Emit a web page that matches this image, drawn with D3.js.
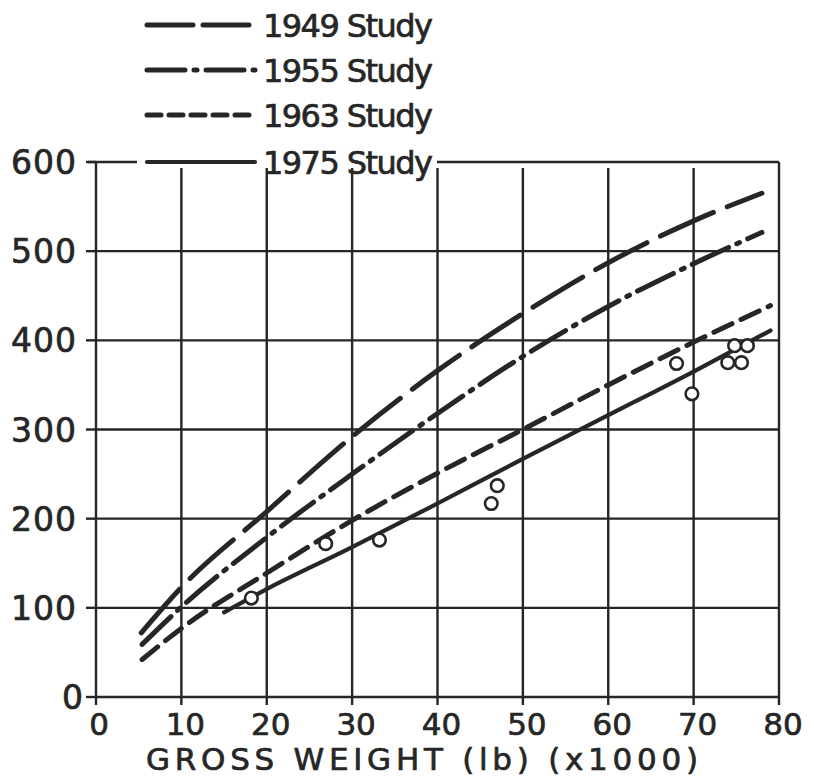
<!DOCTYPE html>
<html>
<head>
<meta charset="utf-8">
<script src="https://cdn.jsdelivr.net/npm/d3@7"></script>
<style>
  html, body { margin: 0; padding: 0; background: #fff; }
  svg { display: block; }
  text { font-family: "DejaVu Sans", "Liberation Sans", sans-serif; fill: #262626; stroke: #262626; stroke-width: 0.7px; }
</style>
</head>
<body>
<script>
// Gross weight (x1000 lb) against the estimate from each study
const x1949 = [5.3, 10, 20, 30, 40, 50, 60, 70, 78];
const y1949 = [72, 123, 208, 292, 366, 430, 487, 534, 565];

const x1955 = [5.4, 10, 20, 30, 40, 50, 60, 70, 78];
const y1955 = [59, 101, 179, 250, 318, 382, 438, 486, 521];

const x1963 = [5.4, 10, 20, 30, 40, 50, 60, 70, 79];
const y1963 = [42, 77, 139, 198, 251, 300, 350, 398, 439];

const x1975 = [15, 20, 30, 40, 50, 60, 70, 79];
const y1975 = [95, 121, 168, 217, 267, 316, 365, 411];

// Observed points
const obsX = [18.2, 26.9, 33.2, 46.3, 47.0, 68.0, 69.8, 74.0, 75.6, 74.8, 76.3];
const obsY = [111, 172, 176, 217, 237, 374, 340, 375, 375, 394, 394];

const xTicks = [0, 10, 20, 30, 40, 50, 60, 70, 80];
const yTicks = [0, 100, 200, 300, 400, 500, 600];
const studyNames = ["1949 Study", "1955 Study", "1963 Study", "1975 Study"];
const xTitle = "GROSS WEIGHT (lb) (x1000)";

const W = 814, H = 779;
const ink = "#262626";

const svg = d3.select("body").append("svg")
  .attr("width", W).attr("height", H);

svg.append("rect").attr("width", W).attr("height", H).attr("fill", "#fff").attr("stroke", "none");

const x = d3.scaleLinear().domain([0, 80]).range([96, 779]);
const y = d3.scaleLinear().domain([0, 600]).range([697, 162]);

// Grid
const grid = svg.append("g").attr("stroke", ink).attr("stroke-width", 2.4).attr("fill", "none");

// vertical grid lines (inner ones stop just short of the top border)
grid.selectAll("line.v").data(xTicks).join("line")
  .attr("x1", d => x(d)).attr("x2", d => x(d))
  .attr("y1", d => (d === 0 || d === 80) ? y(600) : y(600) + 6)
  .attr("y2", y(0));

// horizontal grid lines below the top border
grid.selectAll("line.h").data(yTicks.filter(d => d < 600)).join("line")
  .attr("x1", x(0)).attr("x2", x(80))
  .attr("y1", d => y(d)).attr("y2", d => y(d));

// top border, broken by the legend's last row
grid.append("line").attr("x1", x(0) - 8).attr("x2", 137)
  .attr("y1", y(600)).attr("y2", y(600));
grid.append("line").attr("x1", 437).attr("x2", x(80))
  .attr("y1", y(600)).attr("y2", y(600));

// tick marks
grid.selectAll("line.xt").data(xTicks).join("line")
  .attr("x1", d => x(d)).attr("x2", d => x(d))
  .attr("y1", y(0)).attr("y2", y(0) + 8);
grid.selectAll("line.yt").data(yTicks).join("line")
  .attr("x1", x(0) - 10).attr("x2", x(0))
  .attr("y1", d => y(d)).attr("y2", d => y(d));

// Tick labels
svg.append("g").selectAll("text").data(yTicks).join("text")
  .attr("x", d => d === 0 ? 84 : 77)
  .attr("y", d => y(d) + 12)
  .attr("text-anchor", "end")
  .attr("font-size", 33)
  .attr("letter-spacing", 1)
  .text(d => d);

svg.append("g").selectAll("text").data(xTicks).join("text")
  .attr("x", d => x(d) + (d === 0 ? 3 : 4))
  .attr("y", y(0) + 38)
  .attr("text-anchor", "middle")
  .attr("font-size", 31)
  .text(d => d);

// Axis title
svg.append("text")
  .attr("x", 146).attr("y", 770)
  .attr("font-size", 31)
  .attr("textLength", 552)
  .attr("lengthAdjust", "spacing")
  .text(xTitle);

// Study curves
const series = [
  { xs: x1949, ys: y1949, dash: "58,15", width: 5 },
  { xs: x1955, ys: y1955, dash: "40,9,3,9", width: 5 },
  { xs: x1963, ys: y1963, dash: "20,10", width: 5 },
  { xs: x1975, ys: y1975, dash: null, width: 4.2 }
];

const line = d3.line()
  .x(d => x(d[0])).y(d => y(d[1]))
  .curve(d3.curveMonotoneX);

const curves = svg.append("g").attr("fill", "none").attr("stroke", ink).attr("stroke-linecap", "round");
series.forEach(s => {
  curves.append("path")
    .datum(d3.zip(s.xs, s.ys))
    .attr("d", line)
    .attr("stroke-width", s.width)
    .attr("stroke-dasharray", s.dash);
});

// Observed points
svg.append("g").selectAll("circle").data(d3.zip(obsX, obsY)).join("circle")
  .attr("cx", d => x(d[0])).attr("cy", d => y(d[1]))
  .attr("r", 6.3)
  .attr("fill", "#fff")
  .attr("stroke", ink)
  .attr("stroke-width", 2.6);

// Legend
const legendRows = [25, 70, 115, y(600)];
const lg = svg.append("g");
series.forEach((s, i) => {
  lg.append("line")
    .attr("x1", 147).attr("x2", 255)
    .attr("y1", legendRows[i]).attr("y2", legendRows[i])
    .attr("stroke", ink)
    .attr("stroke-width", s.width)
    .attr("stroke-linecap", "round")
    .attr("stroke-dasharray", i === 0 ? "46,10" : i === 1 ? "38,9,3,9" : i === 2 ? "14,8" : null);
  lg.append("text")
    .attr("x", 263).attr("y", legendRows[i] + 12)
    .attr("font-size", 32)
    .attr("textLength", 170)
    .attr("lengthAdjust", "spacing")
    .text(studyNames[i]);
});
</script>
</body>
</html>
